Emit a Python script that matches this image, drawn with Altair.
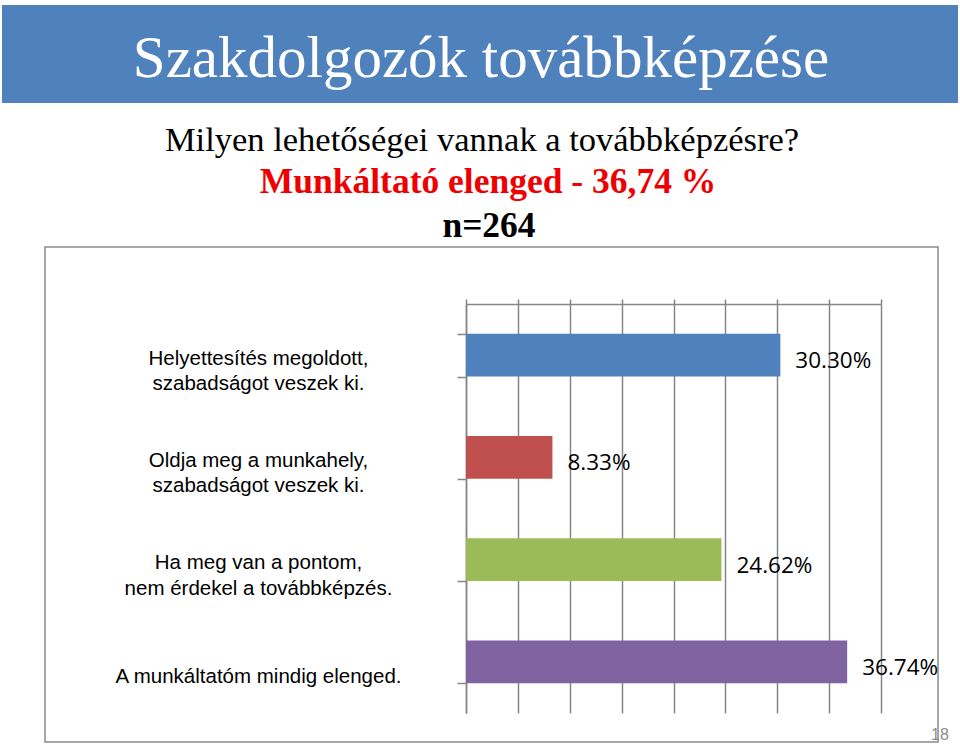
import altair as alt
import pandas as pd

# ---- data ----
categories = [
    "Helyettesítés megoldott,|szabadságot veszek ki.",
    "Oldja meg a munkahely,|szabadságot veszek ki.",
    "Ha meg van a pontom,|nem érdekel a továbbképzés.",
    "A munkáltatóm mindig elenged.",
]
values = [30.30, 8.33, 24.62, 36.74]
colors = ["#4F81BD", "#C0504D", "#9BBB59", "#8064A2"]
x_ticks = [0, 5, 10, 15, 20, 25, 30, 35, 40]

slide_title = "Szakdolgozók továbbképzése"
question = "Milyen lehetőségei vannak a továbbképzésre?"
highlight = "Munkáltató elenged  - 36,74 %"
sample = "n=264"
page_no = "18"

df = pd.DataFrame({
    "cat": categories,
    "val": values,
    "label": [f"{v:.2f}%" for v in values],
})

GRID = "#868686"

# plot origin is at (466, 304) in the page
OX, OY = 466, 304
one = pd.DataFrame({"a": [0]})

box = alt.Chart(one).mark_rect(fillOpacity=0, stroke="#8a8a8a", strokeWidth=1.5).encode(
    x=alt.value(45 - OX), x2=alt.value(938 - OX),
    y=alt.value(247 - OY), y2=alt.value(742 - OY),
)
banner = alt.Chart(one).mark_rect(fill="#4F81BD").encode(
    x=alt.value(2 - OX), x2=alt.value(958 - OX),
    y=alt.value(5 - OY), y2=alt.value(103 - OY),
)

def txt(s, x, y, size, color="black", weight="normal", font="Liberation Serif", align="center"):
    return alt.Chart(one).mark_text(
        text=s, font=font, fontSize=size, color=color, fontWeight=weight,
        align=align, baseline="alphabetic",
    ).encode(x=alt.value(x - OX), y=alt.value(y - OY))

t_title = txt(slide_title, 481, 77, 59, color="white")
t_q = txt(question, 482, 151, 34.5)
t_h = txt(highlight, 488, 193, 35.5, color="#EE0000", weight="bold")
t_n = txt(sample, 489, 237, 35.5, weight="bold")
t_page = txt(page_no, 940, 740, 16, color="#8c8c8c", font="Liberation Sans")

base = alt.Chart(df)

bars = base.mark_bar().encode(
    x=alt.X(
        "val:Q",
        scale=alt.Scale(domain=[0, 40], nice=False),
        axis=alt.Axis(
            orient="top", values=x_ticks, labels=False, title=None,
            tickSize=5, tickColor=GRID, tickWidth=1.5,
            domainColor=GRID, domainWidth=1.5,
            grid=True, gridColor=GRID, gridWidth=1.5, gridOpacity=1,
        ),
    ),
    y=alt.Y(
        "cat:N", sort=categories, title=None,
        scale=alt.Scale(paddingInner=0.58, paddingOuter=0.29),
        axis=alt.Axis(
            orient="left", labelExpr="split(datum.label, '|')",
            labelFont="Liberation Sans", labelFontSize=20.5, labelColor="black",
            labelAlign="center", labelBaseline="middle", labelPadding=199,
            labelLimit=400, labelLineHeight=25.5,
            labelOffset={"condition": {"test": "indexof(datum.label, '|') < 0", "value": 15}, "value": 3},
            tickBand="extent", tickSize=9, tickColor=GRID, tickWidth=1.5,
            domainColor=GRID, domainWidth=1.5, grid=False,
        ),
    ),
    color=alt.Color("cat:N", scale=alt.Scale(domain=categories, range=colors), legend=None),
)

labels = base.mark_text(
    align="left", baseline="middle", dx=15, dy=6,
    font="Open Sans", fontSize=22.5, color="black",
).encode(
    x="val:Q",
    y=alt.Y("cat:N", sort=categories),
    text="label:N",
)

chart = alt.layer(
    box, banner, t_title, t_q, t_h, t_n, t_page, bars, labels
).properties(
    width=415, height=409,
    padding={"left": OX, "top": OY, "right": 960 - 881, "bottom": 744 - 713},
    autosize=alt.AutoSizeParams(type="none"),
    background="white",
).configure_view(strokeWidth=0)

chart.save("out.html", embed_options={"renderer": "svg", "actions": False})
